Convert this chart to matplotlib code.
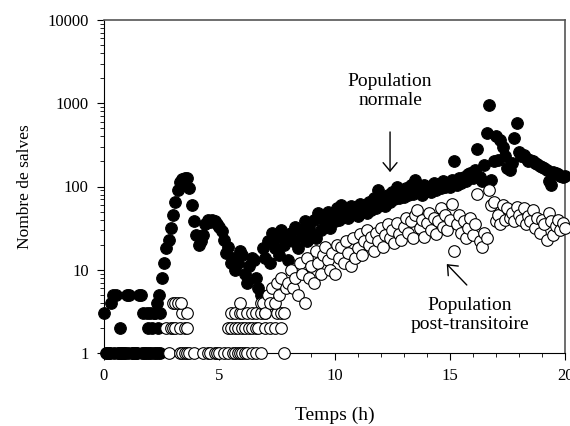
import numpy as np
import matplotlib
matplotlib.use("Agg")
import matplotlib.pyplot as plt
from matplotlib.ticker import FixedLocator, NullFormatter, LogLocator

# population normale: one count every 0.1 h from 0 to 20 h
normal_t = np.arange(0, 201) / 10
normal_n = [
    3, 1, 1, 4, 5, 5, 1, 2, 1, 1,            # 0
    5, 5, 1, 1, 1, 5, 5, 3, 1, 2,            # 1
    3, 2, 3, 4, 5, 8, 12, 18, 23, 32,        # 2
    45, 65, 90, 112, 122, 128, 125, 95, 60, 38,  # 3
    26, 20, 22, 26, 35, 40, 37, 40, 38, 35,  # 4
    33, 29, 23, 16, 19, 12, 14, 10, 12, 17,  # 5
    15, 9, 7, 11, 14, 13, 8, 6, 5, 18,       # 6
    14, 22, 12, 28, 18, 25, 15, 30, 20, 26,  # 7
    13, 28, 22, 33, 18, 30, 25, 38, 22, 32,  # 8
    27, 40, 24, 48, 30, 42, 35, 50, 32, 45,  # 9
    38, 55, 40, 60, 45, 52, 42, 58, 47, 55,  # 10
    44, 62, 50, 58, 48, 66, 52, 72, 55, 90,  # 11
    60, 75, 58, 80, 65, 85, 70, 100, 72, 88,  # 12
    75, 95, 78, 105, 82, 120, 85, 98, 80, 105,  # 13
    88, 100, 85, 110, 92, 105, 95, 115, 98, 110,  # 14
    100, 120, 205, 105, 125, 110, 130, 115, 140, 145,  # 15
    125, 160, 280, 130, 115, 180, 440, 960, 120, 200,  # 16
    400, 210, 360, 300, 230, 165, 160, 190, 380, 580,  # 17
    260, 230, 240, 220, 200, 210, 205, 190, 185, 175,  # 18
    170, 165, 160, 115, 105, 150, 145, 140, 135, 130,  # 19
    135,
]
# extra early counts of the normal population (between grid times)
normal_extra_t = [0.15, 0.25, 0.45, 0.65, 0.75, 0.85, 1.05, 1.25, 1.35, 1.45,
                  1.65, 1.75, 1.85, 1.95, 2.05, 2.15, 2.25, 2.35, 2.45,
                  1.85, 2.15, 2.35, 2.45]
normal_extra_n = [1, 1, 1, 1, 1, 1, 1, 1, 1, 1,
                  1, 1, 1, 1, 1, 1, 1, 1, 1,
                  3, 3, 2, 3]

# population post-transitoire: early low counts
post_early_t = [2.8, 3.3, 3.4, 3.5, 3.6, 3.7, 3.9, 4.3, 4.5, 4.6, 4.8, 4.9, 5.0,
                5.2, 5.4, 5.6, 5.7, 5.8, 5.9, 6.0, 6.1, 6.2, 6.4, 6.6, 6.8, 7.8,
                2.7, 2.9, 3.0, 3.1, 3.3, 3.5, 3.6, 5.4, 5.5, 5.7, 5.8, 6.0, 6.1,
                6.3, 6.4, 6.6, 6.7, 7.0, 7.2, 7.4, 7.7,
                3.4, 3.6, 5.5, 5.7, 5.9, 6.0, 6.2, 6.4, 6.6, 6.8, 7.0, 7.5, 7.7,
                3.0, 3.1, 3.2, 3.35, 5.9, 6.8, 7.1, 7.3]
post_early_n = [1, 1, 1, 1, 1, 1, 1, 1, 1, 1, 1, 1, 1,
                1, 1, 1, 1, 1, 1, 1, 1, 1, 1, 1, 1, 1,
                2, 2, 2, 2, 2, 2, 2, 2, 2, 2, 2, 2, 2,
                2, 2, 2, 2, 2, 2, 2, 2,
                3, 3, 3, 3, 3, 3, 3, 3, 3, 3, 3, 3, 3,
                4, 4, 4, 4, 4, 4, 4, 4]
# then one count every 0.1 h from 6.9 to 20 h
post_t = np.arange(69, 201) / 10
post_n = [
    4,
    3, 5, 4, 6, 4, 7, 5, 8, 3, 6,            # 7
    7, 10, 6, 8, 5, 12, 9, 4, 14, 8,         # 8
    11, 7, 17, 12, 9, 15, 19, 13, 10, 16,    # 9
    9, 20, 14, 19, 12, 22, 16, 11, 24, 14,   # 10
    18, 27, 15, 22, 30, 20, 25, 17, 28, 22,  # 11
    32, 19, 26, 35, 24, 30, 21, 36, 27, 23,  # 12
    33, 42, 28, 38, 24, 45, 52, 32, 40, 25,  # 13
    36, 48, 30, 42, 27, 38, 55, 33, 45, 30,  # 14
    40, 62, 17, 35, 45, 28, 38, 24, 32, 42,  # 15
    26, 35, 82, 22, 19, 28, 24, 90, 60, 65,  # 16
    38, 45, 35, 60, 40, 55, 42, 48, 38, 57,  # 17
    45, 40, 55, 35, 44, 38, 52, 32, 42, 28,  # 18
    40, 35, 23, 48, 38, 26, 34, 40, 30, 36,  # 19
    32,
]

plt.rcParams['font.family'] = ['Liberation Serif', 'DejaVu Serif']

fig = plt.figure(figsize=(5.7, 4.26), dpi=100)
ax = fig.add_axes([104 / 570, 73 / 426, 461 / 570, 333 / 426])

ms = 70
ax.scatter(normal_t, normal_n, s=ms, facecolor='black', edgecolor='black',
           linewidth=0.8, clip_on=False, zorder=3)
ax.scatter(normal_extra_t, normal_extra_n, s=ms, facecolor='black', edgecolor='black',
           linewidth=0.8, clip_on=False, zorder=3)
ax.scatter(post_early_t, post_early_n, s=ms, facecolor='white', edgecolor='black',
           linewidth=0.8, clip_on=False, zorder=4)
ax.scatter(post_t, post_n, s=ms, facecolor='white', edgecolor='black',
           linewidth=0.8, clip_on=False, zorder=4)

ax.set_yscale('log')
ax.set_xlim(0, 20)
ax.set_ylim(1, 10000)
ax.set_xticks([0, 5, 10, 15, 20])
ax.xaxis.set_minor_locator(FixedLocator(np.arange(0, 21)))
ax.set_yticks([1, 10, 100, 1000, 10000])
ax.set_yticklabels(['1', '10', '100', '1000', '10000'])
ax.yaxis.set_minor_locator(LogLocator(base=10, subs=np.arange(2, 10)))
ax.yaxis.set_minor_formatter(NullFormatter())
ax.tick_params(which='major', direction='out', length=5, width=0.8, labelsize=12, pad=6)
ax.tick_params(which='minor', direction='out', length=3, width=0.6)
ax.tick_params(top=False, right=False)

for side in ['left', 'bottom']:
    ax.spines[side].set_linewidth(0.8)
    ax.spines[side].set_color('black')
for side in ['top', 'right']:
    ax.spines[side].set_linewidth(1.2)
    ax.spines[side].set_color('#555555')

ax.set_xlabel('Temps (h)', fontsize=14, labelpad=16)
ax.set_ylabel('Nombre de salves', fontsize=12.5, labelpad=10)

ax.text(12.41, 1400, 'Population\nnormale', ha='center', va='center',
        fontsize=14, linespacing=1.2)
ax.annotate('', xy=(12.41, 149), xytext=(12.41, 452),
            arrowprops=dict(arrowstyle='->,head_length=0.6,head_width=0.5',
                            lw=1, color='black', shrinkA=0, shrinkB=0))

ax.text(15.88, 2.86, 'Population\npost-transitoire', ha='center', va='center',
        fontsize=14, linespacing=1.2)
ax.annotate('', xy=(14.87, 11.7), xytext=(15.74, 6.56),
            arrowprops=dict(arrowstyle='->,head_length=0.6,head_width=0.5',
                            lw=1, color='black', shrinkA=0, shrinkB=0))

fig.savefig('out.png', dpi=100)
